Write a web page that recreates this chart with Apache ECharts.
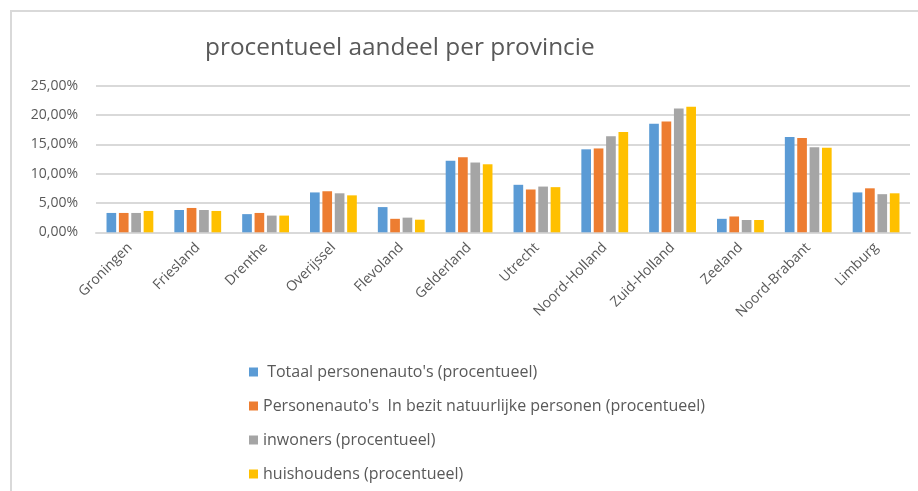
<!DOCTYPE html>
<html>
<head>
<meta charset="utf-8">
<script src="https://cdn.jsdelivr.net/npm/echarts@6/dist/echarts.min.js"></script>
<style>
  html, body { margin: 0; padding: 0; background: #fff; }
  #chart { width: 918px; height: 491px; }
</style>
</head>
<body>
<div id="chart"></div>
<script>
// provincies
const provincies = ['Groningen', 'Friesland', 'Drenthe', 'Overijssel', 'Flevoland', 'Gelderland',
  'Utrecht', 'Noord-Holland', 'Zuid-Holland', 'Zeeland', 'Noord-Brabant', 'Limburg'];

const totaalAutos = [3.3, 3.8, 3.1, 6.8, 4.3, 12.2, 8.1, 14.15, 18.5, 2.3, 16.25, 6.8];
const autosNatuurlijk = [3.3, 4.15, 3.3, 7.0, 2.3, 12.8, 7.3, 14.3, 18.9, 2.7, 16.1, 7.5];
const inwoners = [3.3, 3.8, 2.85, 6.65, 2.5, 11.9, 7.8, 16.4, 21.1, 2.1, 14.5, 6.5];
const huishoudens = [3.64, 3.64, 2.85, 6.3, 2.15, 11.6, 7.7, 17.1, 21.4, 2.1, 14.4, 6.65];

const seriesNamen = [
  " Totaal personenauto's (procentueel)",
  "Personenauto's  In bezit natuurlijke personen (procentueel)",
  'inwoners (procentueel)',
  'huishoudens (procentueel)'
];
const kleuren = ['#5B9BD5', '#ED7D31', '#A5A5A5', '#FFC000'];
const yTicks = [0, 5, 10, 15, 20, 25];

const font = '"Open Sans", sans-serif';
const chart = echarts.init(document.getElementById('chart'));

chart.setOption({
  animation: false,
  color: kleuren,
  textStyle: { fontFamily: font },
  graphic: [
    {
      type: 'polyline',
      shape: { points: [[11, 500], [11, 11], [930, 11]] },
      style: { stroke: '#d9d9d9', lineWidth: 2, fill: null }
    }
  ],
  title: {
    text: 'procentueel aandeel per provincie',
    left: 200,
    top: 31,
    textStyle: { fontFamily: font, fontSize: 24.4, fontWeight: 'normal', color: '#595959' }
  },
  legend: {
    orient: 'vertical',
    left: 244,
    top: 359,
    itemWidth: 9,
    itemHeight: 9,
    itemGap: 18,
    icon: 'rect',
    textStyle: { fontFamily: font, fontSize: 16, color: '#595959' },
    data: seriesNamen
  },
  grid: {
    left: 96,
    right: 8,
    top: 85.7,
    bottom: 258.7,
    containLabel: false
  },
  xAxis: {
    type: 'category',
    data: provincies,
    axisLine: { lineStyle: { color: '#d9d9d9', width: 2 } },
    axisTick: { show: false },
    axisLabel: { rotate: 45, fontSize: 14, color: '#595959', margin: 13, interval: 0 }
  },
  yAxis: {
    type: 'value',
    min: yTicks[0],
    max: yTicks[yTicks.length - 1],
    interval: 5,
    axisLine: { show: false },
    axisTick: { show: false },
    splitLine: { lineStyle: { color: '#d9d9d9', width: 2 } },
    axisLabel: {
      fontSize: 14,
      color: '#595959',
      margin: 18,
      formatter: v => v.toFixed(2).replace('.', ',') + '%'
    }
  },
  series: [totaalAutos, autosNatuurlijk, inwoners, huishoudens].map((d, i) => ({
    name: seriesNamen[i],
    type: 'bar',
    data: d,
    barGap: '28%',
    barCategoryGap: '31%'
  }))
});
</script>
</body>
</html>
